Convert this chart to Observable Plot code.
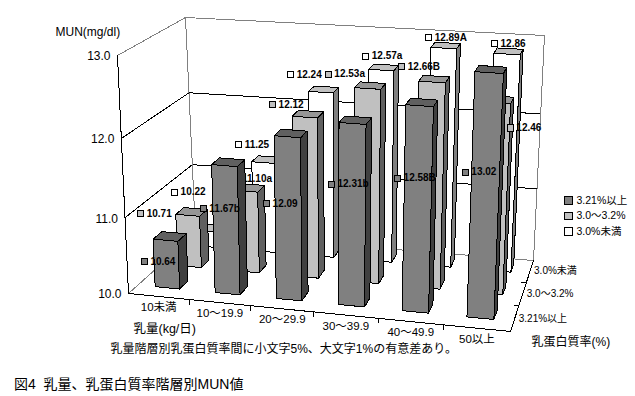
<!DOCTYPE html>
<html lang="ja"><head><meta charset="utf-8">
<script src="https://cdn.jsdelivr.net/npm/d3@7"></script>
<script src="https://cdn.jsdelivr.net/npm/@observablehq/plot@0.6"></script>
<style>
html,body{margin:0;background:#fff}
#cap{font:14px "Liberation Sans","Noto Sans CJK JP",sans-serif;line-height:28px;padding-left:14px;color:#000;white-space:pre;height:26px}
</style></head><body>
<div id="chart"></div>
<div id="cap">図4  乳量、乳蛋白質率階層別MUN値</div>
<script>
// ---- data ----
const categories = ["10未満","10～19.9","20～29.9","30～39.9","40～49.9","50以上"];
const seriesNames = ["3.21%以上","3.0～3.2%","3.0%未満"];
const munHigh = [10.64,11.67,12.09,12.31,12.58,13.02];
const munMid  = [10.71,11.10,12.12,12.53,12.66,12.46];
const munLow  = [10.22,11.25,12.24,12.57,12.89,12.86];
const textHigh = ["10.64","11.67b","12.09","12.31b","12.58B","13.02"];
const textMid  = ["10.71","11.10a","12.12","12.53a","12.66B","12.46"];
const textLow  = ["10.22","11.25","12.24","12.57a","12.89A","12.86"];
// where each data label sits, in axis units (category position, MUN height)
const labelCatHigh = [0.05,1.07,2.10,3.13,4.15,5.17];
const labelMunHigh = [10.27,11.05,11.18,11.50,11.64,11.78];
const labelCatMid  = [-0.40,1.28,1.92,2.83,3.99,5.69];
const labelMunMid  = [10.63,11.21,12.21,12.64,12.79,12.12];
const labelCatLow  = [-0.18,1.01,1.94,3.20,4.22,5.27];
const labelMunLow  = [10.70,11.43,12.41,12.70,12.98,12.95];
const zTicks = [10,11,12,13];

// ---- styling and 3-D projection ----
const W = 635, H = 370;
const palettes = [
  {front:"#808080",top:"#606060",side:"#404040"},
  {front:"#c0c0c0",top:"#969696",side:"#606060"},
  {front:"#ffffff",top:"#c0c0c0",side:"#808080"}
];
const corners = { // screen corners of the plot box
  fl0:[128,293], fr0:[510,331], bl0:[195,233], br0:[533,260],
  fl1:[117,55],  fr1:[520.5,83], bl1:[185,17],  br1:[544,35]
};
const warp = (t,k) => t/(1+k*(1-t));
const lerp = (a,b,t) => a+(b-a)*t;
function project(u,v,z){
  const tu = warp(u/6,0.06), tv = warp(v/3,-0.12), tz = warp((z-10)/3,0.07);
  const c = corners;
  return [0,1].map(i=>{
    const f0 = lerp(lerp(c.fl0[i],c.fr0[i],tu),lerp(c.bl0[i],c.br0[i],tu),tv);
    const f1 = lerp(lerp(c.fl1[i],c.fr1[i],tu),lerp(c.bl1[i],c.br1[i],tu),tv);
    return lerp(f0,f1,tz);
  });
}
const barU = [0.29,0.70], barV = [0.38,0.75], labelV = 0.56;

function barFaces(cat,s,value,pal){
  const [u0,u1] = [cat+barU[0],cat+barU[1]];
  const [v0,v1] = [s+barV[0],s+barV[1]];
  const z0 = 10, z1 = value;
  const faces = [
    {id:"front",fill:pal.front,pts:[[u0,v0,z0],[u1,v0,z0],[u1,v0,z1],[u0,v0,z1]]},
    {id:"top",fill:pal.top,pts:[[u0,v0,z1],[u1,v0,z1],[u1,v1,z1],[u0,v1,z1]]},
    {id:"side",fill:pal.side,pts:[[u1,v0,z0],[u1,v1,z0],[u1,v1,z1],[u1,v0,z1]]}
  ];
  return faces.flatMap(f=>f.pts.map(p=>{
    const [x,y]=project(...p);
    return {x,y,fill:f.fill,face:`${s}-${cat}-${f.id}`};
  }));
}
const segment = (a,b)=>[project(...a),project(...b)].map(([x,y])=>({x,y}));
const seg = (a,b,stroke)=>Plot.line(segment(a,b),{x:"x",y:"y",stroke,strokeWidth:1});

const all = [
 {vals:munLow, texts:textLow, cats:labelCatLow, zs:labelMunLow, s:2},
 {vals:munMid, texts:textMid, cats:labelCatMid, zs:labelMunMid, s:1},
 {vals:munHigh,texts:textHigh,cats:labelCatHigh,zs:labelMunHigh,s:0}
];
const cjk = '"Liberation Sans","Noto Sans CJK JP",sans-serif';
const marks = [];

// walls and grid
for (const z of zTicks){
  const col = (z===10||z===13) ? "#808080" : "#000";
  marks.push(seg([0,0,z],[0,3,z],col), seg([0,3,z],[6,3,z],col));
}
marks.push(seg([0,3,10],[0,3,13],"#808080"), seg([6,3,10],[6,3,13],"#808080"));
marks.push(seg([6,0,10],[6,3,10],"#000"), seg([0,0,10],[6,0,10],"#000"), seg([0,0,10],[0,0,13],"#000"));
// axis ticks
for (let i=1;i<6;i++){
  const [x,y]=project(i,0,10);
  marks.push(Plot.link([0],{x1:()=>x,y1:()=>y,x2:()=>x,y2:()=>y+5,stroke:"#000"}));
}
for (let i=1;i<3;i++){
  const [x,y]=project(6,i,10);
  marks.push(Plot.link([0],{x1:()=>x-5,y1:()=>y,x2:()=>x,y2:()=>y,stroke:"#000"}));
}

// bars, series by series from back to front, each followed by its labels
for (const ser of all){
  const pal = palettes[ser.s];
  const pts = ser.vals.flatMap((v,i)=>barFaces(i,ser.s,v,pal));
  marks.push(Plot.line(pts,{x:"x",y:"y",z:"face",fill:"fill",stroke:"#000",strokeWidth:1,curve:"linear-closed"}));
  const labs = ser.texts.map((t,i)=>{
    const [x,y]=project(ser.cats[i],ser.s+labelV,ser.zs[i]);
    return {x,y,t};
  });
  marks.push(Plot.dot(labs,{x:"x",y:"y",symbol:"square",r:3.4,fill:pal.front,stroke:"#000",strokeWidth:1}));
  marks.push(Plot.text(labs,{x:"x",y:"y",text:"t",dx:6,textAnchor:"start",fontSize:10,fontWeight:"bold",fontFamily:"Liberation Sans",fill:"#000"}));
}

// axis labels
const catLabels = categories.map((t,i)=>{const [x,y]=project(i+0.5,0,10);return {x,y,t};});
marks.push(Plot.text(catLabels,{x:"x",y:"y",text:"t",dy:11,fontSize:11.5,fontFamily:cjk,fill:"#000"}));
const zLabels = zTicks.map(z=>{const [x,y]=project(0,0,z);return {x,y,t:z.toFixed(1)};});
marks.push(Plot.text(zLabels,{x:"x",y:"y",text:"t",dx:-7,dy:1,textAnchor:"end",fontSize:12,fontFamily:"Liberation Sans",fill:"#000"}));
const depthLabels = seriesNames.map((t,i)=>{const [x,y]=project(6,i+0.5,10);return {x,y,t};});
marks.push(Plot.text(depthLabels,{x:"x",y:"y",text:"t",dx:4,textAnchor:"start",fontSize:10,fontFamily:cjk,fill:"#000"}));

// fixed annotations
const note = (text,dx,dy,fontSize)=>Plot.text([text],{text:d=>d,frameAnchor:"top-left",dx,dy,textAnchor:"start",lineAnchor:"middle",fontSize,fontFamily:cjk,fill:"#000"});
marks.push(note("MUN(mg/dl)",55,32,12));
marks.push(note("乳量(kg/日)",133,328,12.5));
marks.push(note("乳量階層別乳蛋白質率間に小文字5%、大文字1%の有意差あり。",110,349,12));
marks.push(note("乳蛋白質率(%)",531,342,12));
// legend
seriesNames.forEach((t,i)=>{
  const dy = 200+i*15.5;
  marks.push(Plot.dot([0],{frameAnchor:"top-left",dx:568,dy,symbol:"square",r:4.4,fill:palettes[i].front,stroke:"#000",strokeWidth:1}));
  marks.push(note(t,576,dy,10.5));
});

const chart = Plot.plot({
  width:W,height:H,margin:0,
  x:{domain:[0,W],range:[0,W],axis:null},
  y:{domain:[0,H],range:[0,H],axis:null},
  color:{type:"identity"},
  style:{background:"#fff",shapeRendering:"crispEdges"},
  marks
});
document.getElementById("chart").append(chart);
</script>
</body></html>
